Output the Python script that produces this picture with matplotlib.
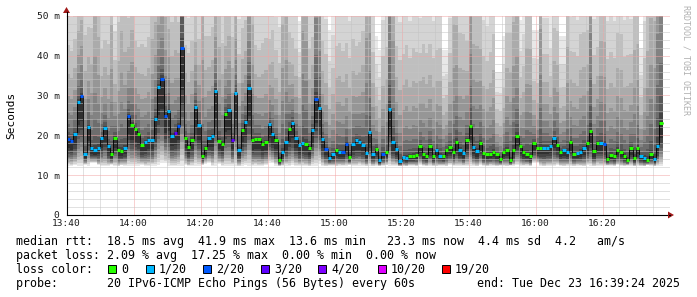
import numpy as np
import matplotlib
matplotlib.use('Agg')
import matplotlib.pyplot as plt
from matplotlib.patches import Polygon, Rectangle
from matplotlib.lines import Line2D

# one sample per minute from 13:40, median rtt in ms
median = [19.1, 18.6, 20.3, 28.4, 29.9, 15.3, 22.0, 16.7, 16.3, 16.8,
          19.3, 21.8, 17.2, 15.3, 19.4, 16.2, 16.1, 16.8, 24.8, 22.6,
          21.6, 20.4, 17.5, 18.3, 18.9, 18.8, 24.1, 32.0, 34.2, 24.9,
          26.0, 19.9, 20.6, 22.4, 41.8, 19.3, 17.0, 18.9, 27.1, 22.6,
          14.8, 16.7, 19.4, 19.7, 31.1, 18.6, 17.9, 25.4, 26.3, 18.8,
          30.5, 16.4, 21.4, 23.4, 31.9, 18.7, 19.0, 19.1, 17.8, 18.2,
          22.8, 20.2, 18.7, 13.9, 15.7, 18.4, 21.5, 23.0, 19.4, 17.5,
          18.1, 17.8, 16.8, 21.2, 29.2, 26.8, 19.1, 16.6, 14.4, 15.2,
          16.2, 15.7, 15.8, 17.7, 14.6, 17.8, 18.7, 18.4, 17.6, 15.5,
          20.9, 15.4, 16.6, 13.7, 15.4, 15.8, 26.6, 18.3, 16.5, 13.5,
          14.5, 14.4, 14.7, 14.9, 15.1, 17.2, 15.2, 14.9, 17.2, 14.7,
          16.2, 14.9, 14.9, 16.3, 17.0, 15.7, 18.3, 16.3, 15.5, 18.8,
          22.4, 17.0, 16.0, 18.0, 15.5, 15.2, 15.4, 15.8, 15.2, 14.0,
          15.8, 16.3, 13.7, 16.4, 19.8, 17.2, 15.9, 15.4, 14.9, 18.0,
          16.7, 16.9, 16.9, 16.9, 17.2, 19.2, 17.6, 15.8, 16.3, 15.8,
          18.2, 15.4, 15.5, 15.8, 16.7, 18.1, 21.1, 16.0, 18.0, 18.0,
          17.8, 14.0, 15.1, 14.7, 16.3, 15.7, 14.9, 13.9, 16.7, 14.4,
          16.8, 14.7, 14.4, 13.9, 15.2, 14.0, 17.3, 23.2]

# lost pings out of 20
loss = [2, 2, 1, 1, 2, 1, 1, 1, 1, 1,
        1, 1, 1, 0, 0, 0, 0, 1, 2, 0,
        0, 0, 0, 1, 1, 1, 1, 1, 2, 2,
        1, 1, 3, 2, 2, 0, 0, 0, 1, 1,
        0, 0, 1, 1, 1, 0, 0, 0, 1, 3,
        1, 1, 0, 1, 1, 0, 0, 0, 0, 0,
        1, 1, 0, 0, 1, 1, 0, 1, 1, 1,
        1, 0, 0, 1, 2, 1, 1, 2, 1, 1,
        0, 1, 2, 2, 0, 1, 1, 1, 1, 1,
        1, 1, 0, 1, 2, 0, 1, 1, 1, 1,
        1, 1, 0, 0, 0, 0, 0, 0, 0, 0,
        1, 1, 0, 0, 0, 0, 0, 1, 1, 0,
        0, 1, 1, 0, 0, 0, 0, 0, 0, 0,
        0, 0, 0, 0, 0, 0, 0, 0, 0, 0,
        0, 0, 1, 1, 1, 1, 0, 0, 1, 1,
        0, 0, 1, 1, 1, 0, 0, 0, 0, 1,
        2, 0, 0, 0, 0, 0, 0, 0, 0, 0,
        0, 1, 1, 0, 0, 1, 1, 0]

# slowest ping of each round (ms)
ping_max = [62, 60, 64, 75, 80, 70, 68, 72, 110, 90,
            60, 62, 64, 100, 55, 75, 95, 80, 70, 85,
            62, 60, 64, 62, 66, 85, 88, 95, 100, 90,
            80, 72, 75, 70, 250, 62, 60, 64, 70, 62,
            110, 68, 66, 70, 85, 80, 64, 70, 75, 66,
            85, 60, 68, 70, 110, 95, 62, 60, 64, 66,
            62, 68, 60, 58, 100, 100, 66, 62, 60, 48.6,
            130, 120, 62, 64, 160, 120, 64, 60, 46.5, 55,
            64, 66, 62, 64, 60, 66, 62, 64, 70, 130,
            120, 62, 45, 41.5, 60, 64, 180, 120, 64, 60,
            62, 66, 60, 64, 62, 60, 66, 62, 64, 60,
            62, 64, 41.5, 41.5, 60, 100, 95, 70, 70, 64,
            140, 85, 85, 80, 60, 58, 62, 70, 36, 36,
            45, 70, 72, 100, 100, 49, 55, 85, 85, 46.5,
            46.5, 135, 60, 60, 49.6, 70, 70, 45, 45, 85,
            60, 62, 60, 70, 70, 70, 180, 60, 62, 85,
            85, 60, 62, 60, 70, 70, 60, 62, 60, 85,
            85, 42, 60, 85, 105, 105, 200, 200]

# fastest ping of each round (ms)
ping_min = [12.4, 12.3, 12.5, 12.2, 12.3, 12.6, 12.4, 13.0, 13.1, 12.5,
            12.3, 12.2, 12.4, 12.6, 12.3, 12.2, 12.5, 12.4, 12.3, 12.2,
            12.4, 12.3, 12.6, 12.2, 12.3, 12.4, 12.2, 12.5, 13.0, 13.0,
            12.4, 12.3, 12.2, 12.4, 12.3, 12.5, 12.2, 12.3, 12.4, 12.2,
            12.5, 12.9, 13.0, 12.3, 12.2, 12.8, 12.4, 12.3, 12.2, 12.4,
            12.3, 12.2, 12.4, 12.5, 12.2, 12.3, 12.4, 12.2, 12.3, 12.6,
            13.1, 13.0, 12.4, 12.2, 12.3, 12.4, 12.2, 12.5, 12.3, 12.2,
            12.4, 12.3, 12.2, 12.4, 12.3, 12.9, 12.3, 12.2, 12.4, 12.3,
            12.2, 12.4, 12.3, 12.2, 12.5, 12.3, 12.2, 12.4, 12.3, 12.2,
            12.3, 12.2, 12.4, 12.2, 12.3, 12.5, 12.2, 12.3, 12.4, 12.2,
            12.3, 12.2, 12.4, 12.3, 12.2, 12.5, 12.3, 12.2, 12.4, 12.3,
            12.2, 12.4, 12.3, 12.2, 12.5, 12.3, 12.2, 12.4, 12.3, 12.2,
            12.4, 12.3, 12.2, 12.5, 12.3, 12.2, 12.4, 12.3, 12.2, 12.4,
            12.3, 12.2, 12.4, 12.3, 12.5, 12.2, 12.3, 12.4, 12.2, 13.0,
            13.0, 12.3, 12.2, 12.4, 12.3, 12.2, 12.5, 12.3, 12.2, 12.4,
            12.3, 12.2, 12.4, 12.3, 12.2, 12.5, 12.3, 12.2, 12.4, 12.3,
            12.2, 12.4, 12.3, 12.2, 12.5, 12.3, 12.2, 12.4, 12.3, 12.2,
            12.4, 12.3, 12.2, 12.5, 12.3, 12.2, 12.4, 12.3]

time_labels = ['13:40', '14:00', '14:20', '14:40', '15:00', '15:20', '15:40', '16:00', '16:20']
ytick_labels = ['0', '10 m', '20 m', '30 m', '40 m', '50 m']

loss_steps = [0, 1, 2, 3, 4, 10, 19]
loss_names = ['0', '1/20', '2/20', '3/20', '4/20', '10/20', '19/20']
loss_cols = ['#26ff00', '#00b8ff', '#0059ff', '#5e00ff', '#7e00ff', '#dd00ff', '#ff0000']

W, H = 697, 297
MONO = 'DejaVu Sans Mono'

def px(x, y):
    return x / W, 1 - y / H

fig = plt.figure(figsize=(W / 100, H / 100), dpi=100)
ax = fig.add_axes([66.5 / W, 82 / H, 603 / W, 199.3 / H])

med = np.array(median)
hi = np.array(ping_max, dtype=float)
lo = np.array(ping_min)
edges = np.arange(len(med) + 1)

# smoke: 10 pairs of pings, outer pairs light, inner pairs dark
npair = 10
for j in range(npair):
    f = (npair - j) / npair
    top = med + (hi - med) * f ** 2.7
    bot = med - (med - lo) * f ** 0.45
    g = (232 - 20.5 * j) / 255
    ax.stairs(top, edges, baseline=bot, fill=True, color=(g, g, g), lw=0, zorder=1)

# median line plus loss coloured segments
ax.stairs(med, edges, baseline=None, color='black', lw=0.6, zorder=3)
seg_cols = []
for l in loss:
    c = loss_cols[0]
    for s, col in zip(loss_steps, loss_cols):
        if l >= s:
            c = col
    seg_cols.append(c)
ax.hlines(med, edges[:-1], edges[1:], colors=seg_cols, lw=2.2, zorder=4)

ax.set_xlim(0, 180)
ax.set_ylim(0, 50)
ax.set_xticks(np.arange(0, 180, 20))
ax.set_xticklabels(time_labels)
ax.set_xticks(np.arange(0, 181, 5), minor=True)
ax.set_yticks(np.arange(0, 51, 10))
ax.set_yticklabels(ytick_labels)
ax.set_yticks(np.arange(0, 51, 2), minor=True)
ax.set_axisbelow(False)
ax.grid(which='minor', color='#c4c4c4', lw=0.72, ls=(0, (1, 1)))
ax.grid(which='major', color='#f2a4a4', lw=0.72, ls=(0, (1, 1)))
ax.tick_params(which='both', length=0, labelsize=6.8, colors='#1a1a1a')
ax.tick_params(axis='x', pad=3.2)
ax.tick_params(axis='y', pad=5)
for lab in ax.get_xticklabels() + ax.get_yticklabels():
    lab.set_family(MONO)
for s in ['top', 'right']:
    ax.spines[s].set_visible(False)
for s in ['left', 'bottom']:
    ax.spines[s].set_color('black')
    ax.spines[s].set_linewidth(0.8)
    ax.spines[s].set_zorder(5)

# axis arrows
fig.add_artist(Line2D([px(669, 0)[0], px(670, 0)[0]], [px(0, 215)[1]] * 2, color='black', lw=0.8))
fig.add_artist(Line2D([px(66.5, 0)[0]] * 2, [px(0, 16)[1], px(0, 12)[1]], color='black', lw=0.8))
fig.add_artist(Polygon([px(668, 211.5), px(668, 218.5), px(674, 215)], closed=True,
                       transform=fig.transFigure, color='#a01818', lw=0))
fig.add_artist(Polygon([px(63, 13), px(70, 13), px(66.5, 7)], closed=True,
                       transform=fig.transFigure, color='#a01818', lw=0))

fig.text(*px(11, 115.5), 'Seconds', rotation=90, ha='center', va='center', family=MONO, size=8)
fig.text(*px(686, 5), 'RRDTOOL / TOBI OETIKER', rotation=270, ha='center', va='top',
         family=MONO, size=6, color='#b0b0b0')

# legend block
rows = ['median rtt:  18.5 ms avg  41.9 ms max  13.6 ms min   23.3 ms now  4.4 ms sd  4.2   am/s',
        'packet loss: 2.09 % avg  17.25 % max  0.00 % min  0.00 % now',
        'loss color:',
        'probe:       20 IPv6-ICMP Echo Pings (56 Bytes) every 60s']
for i, r in enumerate(rows):
    fig.text(*px(16, 245 + 14 * i), r, family=MONO, size=8.4, va='baseline')
fig.text(*px(680, 287), 'end: Tue Dec 23 16:39:24 2025', family=MONO, size=8.4,
         va='baseline', ha='right')

sq_x = [108, 146, 203, 261, 318, 378, 442]
for x, name, col in zip(sq_x, loss_names, loss_cols):
    fig.add_artist(Rectangle(px(x, 273), 8 / W, 8 / H, transform=fig.transFigure,
                             facecolor=col, edgecolor='black', lw=0.7))
    fig.text(*px(x + 13, 273), name, family=MONO, size=8.4, va='baseline')

fig.savefig('out.png', dpi=100)
